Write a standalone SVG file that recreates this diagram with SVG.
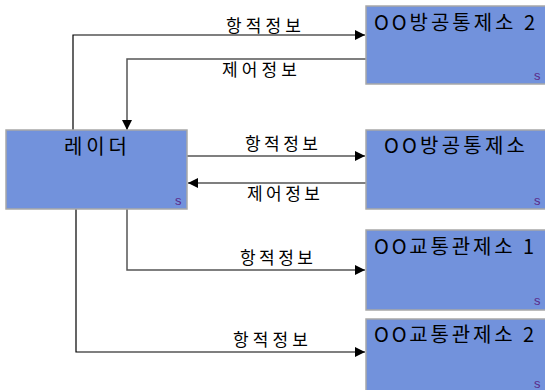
<svg xmlns="http://www.w3.org/2000/svg" width="545" height="390" viewBox="0 0 545 390">
  <style>
    .box { fill: #7292dc; stroke: #a8a8a8; stroke-width: 1.5; }
    .title { font-family: "Noto Sans CJK KR", "Liberation Sans", sans-serif; font-size: 20px; fill: #000; }
    .lbl { font-family: "Noto Sans CJK KR", sans-serif; font-size: 17px; fill: #000; }
    .s { font-family: "Liberation Sans", sans-serif; font-size: 13px; fill: #5a2a8a; }
    .dark { fill: none; stroke: #000; stroke-width: 1.2; }
    .grey { fill: none; stroke: #555; stroke-width: 1.5; }
  </style>
  <defs>
    <marker id="arrow" viewBox="0 0 10 10" refX="10" refY="5" markerWidth="10" markerHeight="10" markerUnits="userSpaceOnUse" orient="auto">
      <path d="M0,0 L10,5 L0,10 Z" fill="#000"/>
    </marker>
  </defs>
  <rect width="545" height="390" fill="#fff"/>

  <g id="connectors">
    <polyline class="dark" points="73,130 73,35 365,35" marker-end="url(#arrow)"/>
    <polyline class="grey" points="366,59 127,59 127,130" marker-end="url(#arrow)"/>
    <polyline class="dark" points="187,156 365,156" marker-end="url(#arrow)"/>
    <polyline class="grey" points="366,183 188,183" marker-end="url(#arrow)"/>
    <polyline class="grey" points="127,209 127,270 365,270" marker-end="url(#arrow)"/>
    <polyline class="dark" points="76,209 76,352 365,352" marker-end="url(#arrow)"/>
    <text class="lbl" x="226" y="32" textLength="75" lengthAdjust="spacing">항적정보</text>
    <text class="lbl" x="222" y="76" textLength="75" lengthAdjust="spacing">제어정보</text>
    <text class="lbl" x="245" y="150" textLength="73" lengthAdjust="spacing">항적정보</text>
    <text class="lbl" x="247" y="200" textLength="73" lengthAdjust="spacing">제어정보</text>
    <text class="lbl" x="240" y="264" textLength="73" lengthAdjust="spacing">항적정보</text>
    <text class="lbl" x="233" y="346" textLength="75" lengthAdjust="spacing">항적정보</text>
  </g>

  <g id="radar">
    <rect class="box" x="6" y="130" width="181" height="79"/>
    <text class="title" x="64" y="154" textLength="63" lengthAdjust="spacing">레이더</text>
    <text class="s" x="175" y="205">s</text>
  </g>
  <g id="air-control-2">
    <rect class="box" x="366" y="6" width="185" height="78"/>
    <text class="title" x="374" y="30" textLength="161" lengthAdjust="spacing">OO방공통제소 2</text>
    <text class="s" x="534" y="80">s</text>
  </g>
  <g id="air-control">
    <rect class="box" x="366" y="130" width="185" height="79"/>
    <text class="title" x="384" y="153" textLength="141" lengthAdjust="spacing">OO방공통제소</text>
    <text class="s" x="534" y="205">s</text>
  </g>
  <g id="traffic-control-1">
    <rect class="box" x="366" y="230" width="185" height="80"/>
    <text class="title" x="374" y="254" textLength="160" lengthAdjust="spacing">OO교통관제소 1</text>
    <text class="s" x="534" y="305">s</text>
  </g>
  <g id="traffic-control-2">
    <rect class="box" x="366" y="319" width="185" height="80"/>
    <text class="title" x="374" y="342" textLength="160" lengthAdjust="spacing">OO교통관제소 2</text>
    <text class="s" x="534" y="388">s</text>
  </g>
</svg>
